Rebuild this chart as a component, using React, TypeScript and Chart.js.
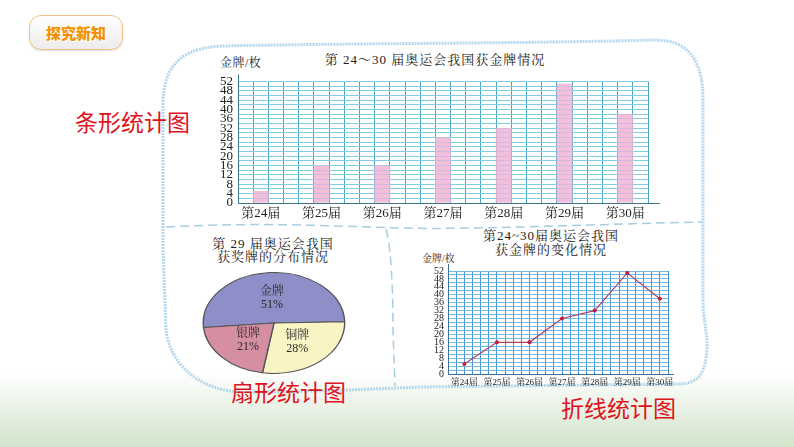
import React, { useEffect, useRef } from "react";
import { Chart, registerables } from "chart.js";

Chart.register(...registerables);

// ---------- data ----------
const sessions = ["第24届", "第25届", "第26届", "第27届", "第28届", "第29届", "第30届"];
const goldMedals = [5, 16, 16, 28, 32, 51, 38];
const yMax = 52;
const yGridStep = 2;
const yLabelStep = 4;
const gridColumns = 27;
const pieLabels = ["金牌", "铜牌", "银牌"];
const pieValues = [51, 28, 21];

const barTitle = "第 24～30 届奥运会我国获金牌情况";
const pieTitle = ["第 29 届奥运会我国", "获奖牌的分布情况"];
const lineTitle = ["第24~30届奥运会我国", "获金牌的变化情况"];
const unitLabel = "金牌/枚";

// ---------- styles ----------
const SERIF = '"Liberation Serif", "Noto Serif CJK SC", "Noto Sans CJK SC", serif';
const SANS = '"Noto Sans CJK SC", "Noto Sans", sans-serif';

function useChart(ref: React.RefObject<HTMLCanvasElement>, makeConfig: () => any) {
  useEffect(() => {
    if (!ref.current) return;
    const chart = new Chart(ref.current, makeConfig());
    return () => chart.destroy();
  }, []);
}

const axisPlugin = (color: string, extTop: number, extRight: number) => ({
  id: "axisLines",
  afterDraw(chart: any) {
    const { ctx, chartArea } = chart;
    const { left, right, top, bottom } = chartArea;
    ctx.save();
    ctx.strokeStyle = color;
    ctx.lineWidth = 1;
    ctx.beginPath();
    ctx.moveTo(Math.round(left) + 0.5, top - extTop);
    ctx.lineTo(Math.round(left) + 0.5, Math.round(bottom) + 0.5);
    ctx.lineTo(right + extRight, Math.round(bottom) + 0.5);
    ctx.stroke();
    ctx.restore();
  },
});

function BarChart() {
  const ref = useRef<HTMLCanvasElement>(null);
  useChart(ref, () => {
    const labels = Array.from({ length: gridColumns }, (_, k) =>
      (k - 1) % 4 === 0 && (k - 1) / 4 < sessions.length ? sessions[(k - 1) / 4] : ""
    );
    const data = Array.from({ length: gridColumns }, (_, k) =>
      (k - 1) % 4 === 0 && (k - 1) / 4 < goldMedals.length ? goldMedals[(k - 1) / 4] : null
    );
    return {
      type: "bar",
      data: {
        labels,
        datasets: [
          {
            data,
            backgroundColor: "rgba(238,178,214,0.82)",
            borderWidth: 0,
            barPercentage: 1,
            categoryPercentage: 1,
          },
        ],
      },
      options: {
        animation: false,
        responsive: true,
        maintainAspectRatio: false,
        layout: { padding: { top: 9, right: 14, left: 0, bottom: 0 } },
        plugins: { legend: { display: false }, tooltip: { enabled: false } },
        scales: {
          x: {
            grid: { color: "#4aa3c4", drawTicks: false, offset: true, lineWidth: 1 },
            border: { display: false },
            ticks: {
              autoSkip: false,
              maxRotation: 0,
              padding: 3,
              color: "#222",
              font: { family: SERIF, size: 13 },
            },
            afterFit: (s: any) => {
              s.height = 22;
            },
          },
          y: {
            min: 0,
            max: yMax,
            grid: { color: "#80cde4", drawTicks: false, lineWidth: 1 },
            border: { display: false },
            ticks: {
              stepSize: yGridStep,
              autoSkip: false,
              padding: 5,
              color: "#222",
              font: { family: SERIF, size: 13, lineHeight: 1 },
              callback: (v: any) => (Number(v) % yLabelStep === 0 ? String(v) : ""),
            },
            afterFit: (s: any) => {
              s.width = 43;
            },
          },
        },
      },
      plugins: [axisPlugin("#3f7690", 7, 12)],
    };
  });
  return (
    <div style={{ position: "absolute", left: 195, top: 70, width: 467, height: 155 }}>
      <canvas ref={ref} />
    </div>
  );
}

function LineChart() {
  const ref = useRef<HTMLCanvasElement>(null);
  useChart(ref, () => ({
    type: "line",
    data: {
      datasets: [
        {
          data: goldMedals.map((v, i) => ({ x: 2 + 4 * i, y: v })),
          borderColor: "#b5405f",
          borderWidth: 1.2,
          pointRadius: 2,
          pointBackgroundColor: "#c41a3c",
          pointBorderWidth: 0,
          tension: 0,
        },
      ],
    },
    options: {
      animation: false,
      responsive: true,
      maintainAspectRatio: false,
      layout: { padding: { top: 7, right: 12, left: 0, bottom: 0 } },
      plugins: { legend: { display: false }, tooltip: { enabled: false } },
      scales: {
        x: {
          type: "linear",
          min: 0,
          max: gridColumns,
          grid: { color: "#3f8fd2", drawTicks: false, lineWidth: 1 },
          border: { display: false },
          ticks: {
            stepSize: 1,
            autoSkip: false,
            maxRotation: 0,
            padding: 3,
            color: "#222",
            font: { family: SERIF, size: 9 },
            callback: (v: any) => {
              const n = Number(v);
              return n >= 2 && (n - 2) % 4 === 0 && (n - 2) / 4 < sessions.length ? sessions[(n - 2) / 4] : "";
            },
          },
          afterFit: (s: any) => {
            s.height = 18;
          },
        },
        y: {
          min: 0,
          max: yMax,
          grid: { color: "#74b8e8", drawTicks: false, lineWidth: 1 },
          border: { display: false },
          ticks: {
            stepSize: yGridStep,
            autoSkip: false,
            padding: 4,
            color: "#222",
            font: { family: SERIF, size: 10, lineHeight: 1 },
            callback: (v: any) => (Number(v) % yLabelStep === 0 ? String(v) : ""),
          },
          afterFit: (s: any) => {
            s.width = 48;
          },
        },
      },
    },
    plugins: [axisPlugin("#3f6f9a", 7, 6)],
  }));
  return (
    <div style={{ position: "absolute", left: 400, top: 262, width: 280, height: 130 }}>
      <canvas ref={ref} />
    </div>
  );
}

const ELLIPSE_X = 1.4;

function PieChart() {
  const ref = useRef<HTMLCanvasElement>(null);
  useChart(ref, () => ({
    type: "pie",
    data: {
      labels: pieLabels,
      datasets: [
        {
          data: pieValues,
          backgroundColor: ["#8e8ec9", "#f8f4c4", "#d68fa2"],
          borderColor: "#555",
          borderWidth: 1,
        },
      ],
    },
    options: {
      animation: false,
      responsive: true,
      maintainAspectRatio: false,
      rotation: 265,
      layout: { padding: 0 },
      plugins: { legend: { display: false }, tooltip: { enabled: false } },
    },
    plugins: [
      {
        id: "ellipse",
        beforeDatasetsDraw(chart: any) {
          const arc = chart.getDatasetMeta(0).data[0];
          const ctx = chart.ctx;
          ctx.save();
          ctx.translate(arc.x, arc.y);
          ctx.scale(ELLIPSE_X, 1);
          ctx.translate(-arc.x, -arc.y);
        },
        afterDatasetsDraw(chart: any) {
          const ctx = chart.ctx;
          ctx.restore();
          const meta = chart.getDatasetMeta(0);
          const total = pieValues.reduce((a, b) => a + b, 0);
          ctx.save();
          ctx.fillStyle = "#2a2a2a";
          ctx.textAlign = "center";
          ctx.textBaseline = "middle";
          ctx.font = `12px ${SERIF}`;
          meta.data.forEach((arc: any, i: number) => {
            const p = arc.tooltipPosition();
            const x = arc.x + (p.x - arc.x) * ELLIPSE_X;
            const y = p.y;
            ctx.fillText(pieLabels[i], x, y - 6);
            ctx.fillText(`${Math.round((pieValues[i] / total) * 100)}%`, x, y + 7);
          });
          ctx.restore();
        },
      },
    ],
  }));
  return (
    <div style={{ position: "absolute", left: 199, top: 272, width: 150, height: 102 }}>
      <canvas ref={ref} />
    </div>
  );
}

function Text({
  x,
  y,
  size,
  children,
  family = SERIF,
  color = "#222",
  center = false,
  spacing = 0,
  weight = 400,
}: any) {
  return (
    <div
      style={{
        position: "absolute",
        left: center ? x - 200 : x,
        width: center ? 400 : undefined,
        textAlign: center ? "center" : "left",
        top: y - size / 2,
        fontSize: size,
        lineHeight: `${size}px`,
        fontFamily: family,
        color,
        whiteSpace: "nowrap",
        letterSpacing: spacing,
        fontWeight: weight,
      }}
    >
      {children}
    </div>
  );
}

export default function App() {
  return (
    <div
      style={{
        position: "absolute",
        left: 0,
        top: 0,
        width: 794,
        height: 447,
        overflow: "hidden",
        background: "#fff",
      }}
    >
      <div
        style={{
          position: "absolute",
          left: 0,
          top: 372,
          width: 794,
          height: 75,
          background: "linear-gradient(to bottom, rgba(255,255,255,1), #d2e4ca)",
        }}
      />
      <svg width={794} height={447} style={{ position: "absolute", left: 0, top: 0 }}>
        <path
          d="M 163 105 C 163 62, 185 47, 225 46 C 350 43, 500 44, 655 40 C 690 40, 703 62, 703 100 L 703 300 C 703 320, 708 335, 707 350 C 705 372, 700 383, 680 384 L 420 387 C 380 389, 300 392, 240 392 C 200 390, 170 365, 166 330 L 163 250 Z"
          fill="none"
          stroke="#b3d8ee"
          strokeWidth={3}
          strokeDasharray="2 1"
        />
        <path
          d="M 166 227 C 260 222, 330 226, 400 228 S 600 224, 702 222"
          fill="none"
          stroke="#a6cde2"
          strokeWidth={1.5}
          strokeDasharray="9 5"
        />
        <path
          d="M 386 229 C 392 250, 393 300, 393 330 L 395 386"
          fill="none"
          stroke="#a6cde2"
          strokeWidth={1.5}
          strokeDasharray="9 5"
        />
      </svg>

      {/* button */}
      <div
        style={{
          position: "absolute",
          left: 29,
          top: 15,
          width: 94,
          height: 35,
          boxSizing: "border-box",
          borderRadius: 12,
          border: "1px solid #f2c27e",
          background: "linear-gradient(to bottom, #ffffff, #ececec)",
          boxShadow: "0 1px 2px rgba(0,0,0,0.15)",
          display: "flex",
          alignItems: "center",
          justifyContent: "center",
          fontFamily: SANS,
          fontWeight: 900,
          fontSize: 15,
          color: "#f39100",
          textShadow: "0 0 1px #fff, 1px 1px 0 #fff",
        }}
      >
        探究新知
      </div>

      <Text x={75} y={121} size={23} family={SANS} color="#e0141e">
        条形统计图
      </Text>
      <Text x={231} y={391} size={23} family={SANS} color="#e0141e">
        扇形统计图
      </Text>
      <Text x={561} y={407} size={23} family={SANS} color="#e0141e">
        折线统计图
      </Text>

      <Text x={435} y={59} size={13} center spacing={1}>
        {barTitle}
      </Text>
      <Text x={220} y={63} size={12} spacing={0.5}>
        {unitLabel}
      </Text>

      <Text x={273} y={243} size={13} center spacing={1}>
        {pieTitle[0]}
      </Text>
      <Text x={273} y={256} size={13} center spacing={1}>
        {pieTitle[1]}
      </Text>

      <Text x={551} y={235} size={13} center spacing={1}>
        {lineTitle[0]}
      </Text>
      <Text x={551} y={249} size={13} center spacing={1}>
        {lineTitle[1]}
      </Text>
      <Text x={422} y={259} size={10}>
        {unitLabel}
      </Text>

      <BarChart />
      <PieChart />
      <LineChart />
    </div>
  );
}
